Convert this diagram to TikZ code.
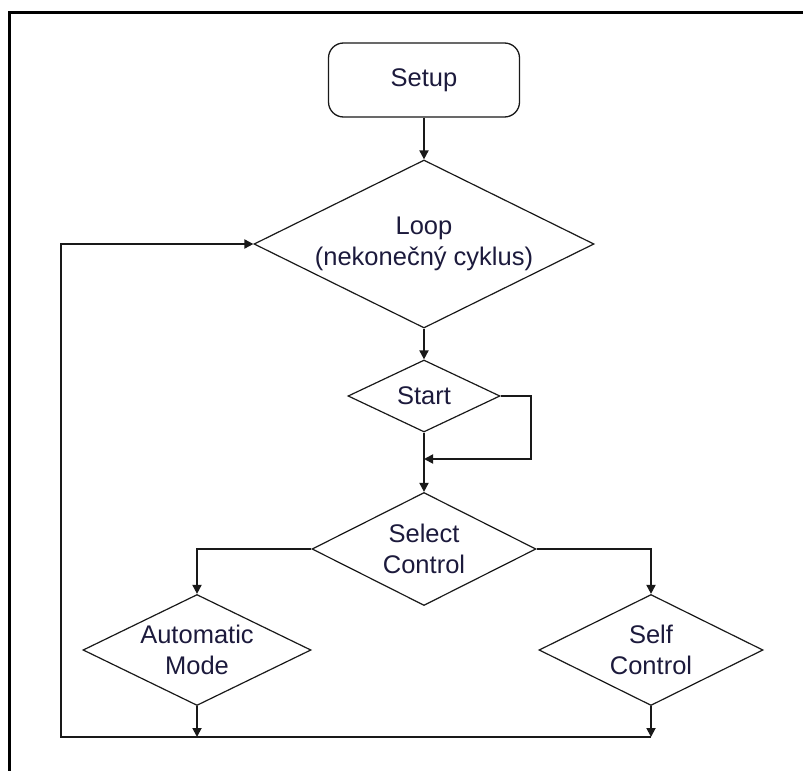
\documentclass[tikz,border=0pt]{standalone}
\usepackage{fontspec}
\setmainfont{Liberation Sans}
\usetikzlibrary{shapes.geometric,arrows.meta}
\definecolor{ink}{RGB}{28,26,60}
\definecolor{wire}{RGB}{25,25,25}
\tikzset{
  every picture/.style={x=1pt,y=-1pt},
  frame/.style={line width=3pt,black},
  decision/.style={diamond,draw=wire,line width=1.2pt,inner sep=0pt,aspect=2},
  terminal/.style={rectangle,rounded corners=15pt,draw=wire,line width=1.3pt,inner sep=0pt},
  label/.style={text=ink,align=center,inner sep=0pt,font=\fontsize{25.5}{31}\selectfont},
  flow/.style={draw=wire,line width=1.8pt},
  flowarrow/.style={flow,-{Triangle[length=9pt,width=9pt]}},
}
\begin{document}
\begin{tikzpicture}
\useasboundingbox (0,0) rectangle (803,771);
% outer frame (left and top edges)
\draw[frame] (803,12.5) -- (9,12.5) -- (9,771);

% shapes
\node[terminal,minimum width=191pt,minimum height=74pt] (setup) at (424,80) {};
\node[decision,minimum width=340pt,minimum height=168pt] (loop) at (424,244) {};
\node[decision,minimum width=152pt,minimum height=72pt] (start) at (424,396) {};
\node[decision,minimum width=224pt,minimum height=113pt] (select) at (424,549) {};
\node[decision,minimum width=228pt,minimum height=111pt] (auto) at (197,650) {};
\node[decision,minimum width=224pt,minimum height=111pt] (self) at (651,650) {};

% texts
\node[label] (tsetup) at (setup) {Setup};
\node[label] (tloop) at (424,244) {Loop\\(nekonečný cyklus)};
\node[label] (tstart) at (424,396) {Start};
\node[label] (tselect) at (424,549) {Select\\Control};
\node[label] (tauto) at (197,650) {Automatic\\Mode};
\node[label] (tself) at (651,650) {Self\\Control};

% junction points
\coordinate (join) at (424,459);
\coordinate (startout) at (531,396);
\coordinate (autoend) at (197,737);
\coordinate (selfend) at (651,737);
\coordinate (back) at (61,737);

% connectors
\draw[flowarrow] (setup.south) -- (loop.north);
\draw[flowarrow] (loop.south) -- (start.north);
\draw[flowarrow] (start.east) -- (startout) |- (join);
\draw[flowarrow] (start.south) -- (select.north);
\draw[flowarrow] (select.west) -| (auto.north);
\draw[flowarrow] (select.east) -| (self.north);
\draw[flowarrow] (auto.south) -- (autoend);
\draw[flowarrow] (self.south) -- (selfend);
\draw[flowarrow] (selfend) -- (back) |- (loop.west);
\end{tikzpicture}
\end{document}
